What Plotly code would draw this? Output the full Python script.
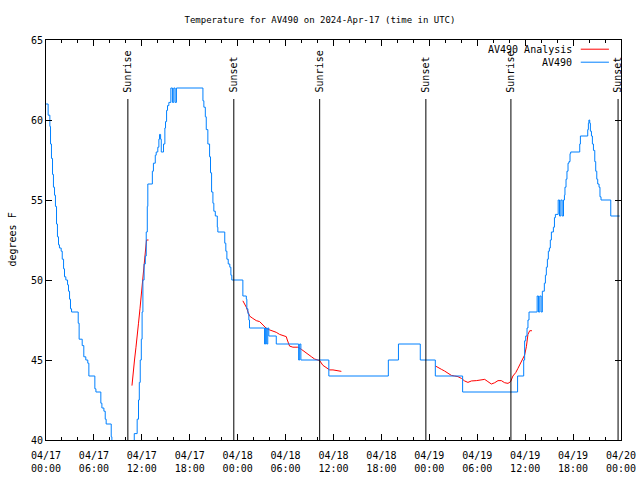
import plotly.graph_objects as go

# ---- data ----
obs_time = [
    "2024-04-17 00:00", "2024-04-17 00:16", "2024-04-17 00:29", "2024-04-17 00:34", "2024-04-17 00:41",
    "2024-04-17 00:49", "2024-04-17 00:56", "2024-04-17 01:04", "2024-04-17 01:11", "2024-04-17 01:19",
    "2024-04-17 01:26", "2024-04-17 01:34", "2024-04-17 01:41", "2024-04-17 01:54", "2024-04-17 02:02",
    "2024-04-17 02:12", "2024-04-17 02:19", "2024-04-17 02:29", "2024-04-17 02:42", "2024-04-17 02:49",
    "2024-04-17 02:57", "2024-04-17 03:04", "2024-04-17 03:12", "2024-04-17 04:02", "2024-04-17 04:09",
    "2024-04-17 04:32", "2024-04-17 04:44", "2024-04-17 04:59", "2024-04-17 05:14", "2024-04-17 05:22",
    "2024-04-17 06:07", "2024-04-17 06:15", "2024-04-17 06:52", "2024-04-17 07:00", "2024-04-17 07:15",
    "2024-04-17 07:25", "2024-04-17 07:32", "2024-04-17 08:10", "2024-04-17 08:15", "2024-04-17 08:45",
    "2024-04-17 09:30", "2024-04-17 10:20", "2024-04-17 11:03", "2024-04-17 11:25", "2024-04-17 11:35",
    "2024-04-17 11:41", "2024-04-17 11:48", "2024-04-17 11:56", "2024-04-17 12:02", "2024-04-17 12:08",
    "2024-04-17 12:17", "2024-04-17 12:26", "2024-04-17 12:33", "2024-04-17 12:41", "2024-04-17 12:45",
    "2024-04-17 13:19", "2024-04-17 13:27", "2024-04-17 13:41", "2024-04-17 13:48", "2024-04-17 14:00",
    "2024-04-17 14:08", "2024-04-17 14:13", "2024-04-17 14:21", "2024-04-17 14:26", "2024-04-17 14:43",
    "2024-04-17 14:53", "2024-04-17 14:58", "2024-04-17 15:06", "2024-04-17 15:13", "2024-04-17 15:23",
    "2024-04-17 15:38", "2024-04-17 15:50", "2024-04-17 16:00", "2024-04-17 16:10", "2024-04-17 16:20",
    "2024-04-17 19:39", "2024-04-17 19:46", "2024-04-17 19:57", "2024-04-17 20:04", "2024-04-17 20:16",
    "2024-04-17 20:29", "2024-04-17 20:36", "2024-04-17 20:44", "2024-04-17 20:54", "2024-04-17 21:01",
    "2024-04-17 21:12", "2024-04-17 21:27", "2024-04-17 21:31", "2024-04-17 22:23", "2024-04-17 22:31",
    "2024-04-17 22:39", "2024-04-17 22:49", "2024-04-17 23:01", "2024-04-17 23:09", "2024-04-17 23:16",
    "2024-04-18 00:39", "2024-04-18 01:05", "2024-04-18 01:09", "2024-04-18 01:17", "2024-04-18 01:24",
    "2024-04-18 01:29", "2024-04-18 03:22", "2024-04-18 03:30", "2024-04-18 03:38", "2024-04-18 03:46",
    "2024-04-18 03:54", "2024-04-18 04:50", "2024-04-18 07:38", "2024-04-18 07:46", "2024-04-18 07:55",
    "2024-04-18 11:25",
    "2024-04-18 18:52", "2024-04-18 20:08", "2024-04-18 22:52", "2024-04-19 00:45", "2024-04-19 04:10",
    "2024-04-19 11:03", "2024-04-19 11:49", "2024-04-19 11:56", "2024-04-19 12:04", "2024-04-19 12:14",
    "2024-04-19 12:21", "2024-04-19 12:29", "2024-04-19 13:30", "2024-04-19 13:40", "2024-04-19 13:50",
    "2024-04-19 14:00", "2024-04-19 14:09", "2024-04-19 14:24", "2024-04-19 14:32",
    "2024-04-19 14:39", "2024-04-19 14:47", "2024-04-19 14:54", "2024-04-19 15:02", "2024-04-19 15:09",
    "2024-04-19 15:17", "2024-04-19 15:32", "2024-04-19 15:40", "2024-04-19 15:47", "2024-04-19 16:08",
    "2024-04-19 16:18", "2024-04-19 16:28", "2024-04-19 16:38", "2024-04-19 16:48",
    "2024-04-19 16:55", "2024-04-19 16:59", "2024-04-19 17:07", "2024-04-19 17:14",
    "2024-04-19 17:22", "2024-04-19 17:29", "2024-04-19 17:37", "2024-04-19 17:42", "2024-04-19 18:50",
    "2024-04-19 18:55", "2024-04-19 19:50", "2024-04-19 19:55", "2024-04-19 19:59", "2024-04-19 20:05",
    "2024-04-19 20:10", "2024-04-19 20:18", "2024-04-19 20:25", "2024-04-19 20:33", "2024-04-19 20:43",
    "2024-04-19 20:50", "2024-04-19 20:58", "2024-04-19 21:05", "2024-04-19 21:15", "2024-04-19 21:22",
    "2024-04-19 21:30", "2024-04-19 22:43", "2024-04-19 23:50",
]
obs_temp = [
    61.0, 60.3, 59.6, 58.5, 57.6,
    56.6, 55.8, 55.3, 54.6, 53.5,
    52.7, 52.2, 52.0, 51.8, 51.3,
    50.7, 50.2, 50.0, 49.7, 49.3,
    48.8, 48.2, 48.0, 47.3, 46.3,
    45.9, 45.2, 45.0, 44.8, 44.0,
    43.2, 43.0, 42.3, 42.0, 41.8,
    41.3, 41.0, 40.2, 39.5, 39.0,
    38.6, 39.0, 40.4, 41.3, 42.5,
    43.6, 45.0, 46.3, 48.0, 50.0,
    51.0, 51.5, 53.0, 54.6, 56.0,
    56.8, 57.3, 57.8, 58.0, 58.3,
    58.8, 59.1, 58.8, 58.0, 58.5,
    59.5, 59.9, 60.6, 60.9, 61.1,
    62.0, 61.1, 62.0, 61.1, 62.0,
    61.2, 60.8, 60.2, 59.4, 58.5,
    57.7, 56.7, 55.5, 54.8, 54.3,
    54.0, 53.3, 53.0, 52.3, 51.8,
    51.3, 51.0, 50.8, 50.3, 50.0,
    49.0, 48.8, 48.2, 47.9, 47.5,
    47.0, 46.0, 47.0, 46.0, 47.0,
    46.5, 46.0, 45.0, 46.0, 45.0,
    44.0,
    45.0, 46.0, 45.0, 44.0, 43.0,
    44.0, 45.0, 46.2, 46.5, 47.0,
    47.5, 48.0, 49.0, 48.0, 49.0,
    48.0, 49.3, 49.8, 50.3,
    50.8, 51.3, 51.8, 52.0, 52.5,
    53.0, 53.3, 53.9, 54.1, 55.0,
    54.0, 55.0, 54.0, 55.0,
    55.3, 55.8, 56.3, 56.8,
    57.3, 57.4, 57.9, 58.0, 58.5,
    59.0, 59.4, 59.8, 60.0, 59.8,
    59.3, 59.0, 58.5, 58.1, 57.4,
    56.8, 56.3, 56.0, 55.8, 55.2,
    55.0, 54.0, 54.0,
]

ana_time = [
    "2024-04-17 10:46", "2024-04-17 10:54", "2024-04-17 11:05", "2024-04-17 11:16", "2024-04-17 11:24",
    "2024-04-17 11:35", "2024-04-17 11:46", "2024-04-17 11:58", "2024-04-17 12:07", "2024-04-17 12:16",
    "2024-04-17 12:28", "2024-04-17 12:35", "2024-04-17 12:50",
    None,
    "2024-04-18 00:39", "2024-04-18 01:05", "2024-04-18 01:22", "2024-04-18 01:29", "2024-04-18 01:54",
    "2024-04-18 02:20", "2024-04-18 02:45", "2024-04-18 03:09", "2024-04-18 03:35", "2024-04-18 04:00",
    "2024-04-18 04:25", "2024-04-18 04:50", "2024-04-18 05:15", "2024-04-18 05:40", "2024-04-18 06:05",
    "2024-04-18 06:13", "2024-04-18 06:30", "2024-04-18 06:55", "2024-04-18 07:32", "2024-04-18 07:58",
    "2024-04-18 08:23", "2024-04-18 08:48", "2024-04-18 09:13", "2024-04-18 09:38", "2024-04-18 10:03",
    "2024-04-18 10:16", "2024-04-18 10:40", "2024-04-18 11:06", "2024-04-18 11:31", "2024-04-18 11:56",
    "2024-04-18 12:59",
    None,
    "2024-04-19 00:45", "2024-04-19 01:05", "2024-04-19 01:30", "2024-04-19 01:55", "2024-04-19 02:20",
    "2024-04-19 02:45", "2024-04-19 03:10", "2024-04-19 03:35", "2024-04-19 04:01", "2024-04-19 04:25",
    "2024-04-19 04:50", "2024-04-19 05:16", "2024-04-19 05:53", "2024-04-19 06:31", "2024-04-19 06:56",
    "2024-04-19 07:20", "2024-04-19 07:46", "2024-04-19 08:11", "2024-04-19 08:36", "2024-04-19 09:01",
    "2024-04-19 09:26", "2024-04-19 09:51", "2024-04-19 10:11", "2024-04-19 10:28", "2024-04-19 10:49",
    "2024-04-19 11:06", "2024-04-19 11:24", "2024-04-19 11:39", "2024-04-19 11:56", "2024-04-19 12:09",
    "2024-04-19 12:21", "2024-04-19 12:34", "2024-04-19 12:51",
]
ana_temp = [
    43.4, 44.2, 45.0, 45.8, 46.3,
    47.3, 48.2, 49.2, 50.1, 50.7,
    51.8, 52.5, 52.5,
    None,
    48.7, 48.3, 47.9, 47.75, 47.6,
    47.46, 47.4, 47.19, 46.98, 46.88,
    46.81, 46.73, 46.6, 46.52, 46.46,
    46.25, 45.87, 45.8, 45.8, 45.67,
    45.5, 45.38, 45.21, 45.06, 45.0,
    44.96, 44.67, 44.52, 44.38, 44.38,
    44.29,
    None,
    44.63, 44.52, 44.42, 44.31, 44.17,
    44.04, 44.0, 43.96, 43.85, 43.69,
    43.6, 43.69, 43.71, 43.75, 43.79,
    43.65, 43.5, 43.58, 43.71, 43.71,
    43.58, 43.54, 43.65, 44.0, 44.21,
    44.48, 44.75, 45.0, 45.31, 45.83,
    46.6, 46.83, 46.83,
]

sun_events = ["2024-04-17 10:15", "2024-04-17 23:31", "2024-04-18 10:16",
              "2024-04-18 23:34", "2024-04-19 10:13", "2024-04-19 23:38"]
sun_labels = ["Sunrise", "Sunset", "Sunrise", "Sunset", "Sunrise", "Sunset"]

x_range = ["2024-04-17 00:00", "2024-04-20 00:00"]
y_range = [40, 65]

FONT = "DejaVu Sans Mono"
RED = "#ff0000"
BLUE = "#0080ff"

fig = go.Figure()
fig.add_trace(go.Scatter(x=ana_time, y=ana_temp, mode="lines", name="AV490 Analysis",
                         line=dict(color=RED, width=1), connectgaps=False, showlegend=False))
fig.add_trace(go.Scatter(x=obs_time, y=obs_temp, mode="lines", name="AV490",
                         line=dict(color=BLUE, width=1, shape="hv"), showlegend=False))

for t, lab in zip(sun_events, sun_labels):
    fig.add_shape(type="line", xref="x", yref="paper", x0=t, x1=t, y0=0, y1=0.8525,
                  line=dict(color="black", width=1))
    fig.add_annotation(x=t, xref="x", y=0.863, yref="paper", text=lab, showarrow=False,
                       textangle=-90, xanchor="center", yanchor="bottom",
                       font=dict(family=FONT, size=10, color="black"))

# gnuplot style legend (text right, sample line to the right)
for i, (name, col) in enumerate([("AV490 Analysis", RED), ("AV490", BLUE)]):
    yy = 0.977 - i * 0.0325
    fig.add_annotation(x=0.918, xref="paper", y=yy, yref="paper", text=name, showarrow=False,
                       xanchor="right", yanchor="middle", font=dict(family=FONT, size=10, color="black"))
    fig.add_shape(type="line", xref="paper", yref="paper", x0=0.930, x1=0.979, y0=yy, y1=yy,
                  line=dict(color=col, width=1))

fig.add_annotation(x=-0.06, xref="paper", y=0.5, yref="paper", text="degrees F", showarrow=False,
                   textangle=-90, xanchor="center", yanchor="middle",
                   font=dict(family=FONT, size=10, color="black"))

fig.update_layout(
    width=640, height=480,
    margin=dict(l=46, r=19, t=40, b=40, autoexpand=False),
    paper_bgcolor="white", plot_bgcolor="white",
    title=dict(text="Temperature for AV490 on 2024-Apr-17 (time in UTC)", x=0.5, xanchor="center",
               y=1 - 20 / 480, yanchor="middle", font=dict(family=FONT, size=9, color="black")),
    font=dict(family=FONT, size=10, color="black"),
    showlegend=False,
)
fig.update_xaxes(type="date", range=x_range, showgrid=False, zeroline=False, automargin=False,
                 showline=True, linecolor="black", linewidth=1, mirror="allticks",
                 ticks="inside", ticklen=6, tickcolor="black", dtick=6 * 3600 * 1000,
                 tick0="2024-04-17 00:00", tickformat="%m/%d<br>%H:%M", ticklabelstandoff=6,
                 minor=dict(ticks="inside", ticklen=3, dtick=2 * 3600 * 1000, tickcolor="black"),
                 tickfont=dict(family=FONT, size=10, color="black"))
fig.update_yaxes(range=y_range, showgrid=False, zeroline=False, automargin=False,
                 showline=True, linecolor="black", linewidth=1, mirror="allticks",
                 ticks="inside", ticklen=6, tickcolor="black", dtick=5, tick0=40,
                 tickfont=dict(family=FONT, size=10, color="black"))

fig.write_html("out.html", config={"displayModeBar": False},
               post_script="document.body.style.margin='0';")
